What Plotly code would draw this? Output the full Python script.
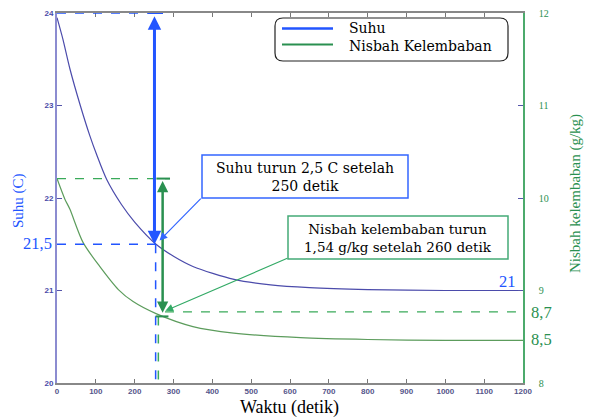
import plotly.graph_objects as go

# ---- data ----
time_suhu = [0, 15, 33, 60, 84, 102, 128, 166, 200, 255, 300, 350, 456, 550, 650, 800, 1000, 1200]
suhu = [23.95, 23.72, 23.40, 23.0, 22.68, 22.47, 22.2, 21.93, 21.74, 21.5, 21.37, 21.26, 21.12, 21.06, 21.03, 21.01, 21.0, 21.0]
time_nisbah = [0, 20, 33, 67, 110, 158, 196, 255, 350, 455, 627, 800, 1000, 1200]
nisbah = [10.21, 9.99, 9.88, 9.52, 9.26, 9.01, 8.88, 8.75, 8.61, 8.54, 8.49, 8.47, 8.46, 8.46]
x_ticks = [0, 100, 200, 300, 400, 500, 600, 700, 800, 900, 1000, 1100, 1200]
y_ticks = [20, 21, 22, 23, 24]
y2_ticks = [8, 9, 10, 11, 12]
legend_names = ["Suhu", "Nisbah Kelembaban"]

W, H = 591, 417
L, R, T, B = 57, 523, 13, 383

def px(xp):
    return (xp - L) / (R - L)

def py(yp):
    return (B - yp) / (B - T)

SERIF = "Liberation Serif"
WIDE = "DejaVu Serif"
BLUE = "#2255ff"
GREEN = "#2a9050"
CURVE_B = "#4b4bab"
CURVE_G = "#5c9c5c"

fig = go.Figure()
fig.add_trace(go.Scatter(x=time_suhu, y=suhu, mode="lines", line=dict(color=CURVE_B, width=1.2, shape="spline", smoothing=0.8),
                         showlegend=False, yaxis="y", name=legend_names[0]))
fig.add_trace(go.Scatter(x=time_nisbah, y=nisbah, mode="lines", line=dict(color=CURVE_G, width=1.2, shape="spline", smoothing=0.8),
                         showlegend=False, yaxis="y2", name=legend_names[1]))

shapes = []
# dashed guide lines
shapes.append(dict(type="line", xref="x", yref="y", x0=0, x1=270, y0=24, y1=24, line=dict(color=BLUE, width=1.5, dash="dash")))
shapes.append(dict(type="line", xref="x", yref="y", x0=0, x1=265, y0=21.5, y1=21.5, line=dict(color=BLUE, width=1.5, dash="dash")))
shapes.append(dict(type="line", xref="x", yref="y", x0=254, x1=254, y0=21.5, y1=20, line=dict(color=BLUE, width=1.5, dash="dash")))
shapes.append(dict(type="line", xref="x", yref="y2", x0=0, x1=291, y0=10.21, y1=10.21, line=dict(color="#3aaa5a", width=1.2, dash="dash")))
shapes.append(dict(type="line", xref="x", yref="y2", x0=278, x1=1200, y0=8.77, y1=8.77, line=dict(color="#3aaa5a", width=1.2, dash="dash")))
shapes.append(dict(type="line", xref="x", yref="y2", x0=261, x1=261, y0=8.72, y1=8, line=dict(color="#3aaa5a", width=1.5, dash="dash")))
# caps
shapes.append(dict(type="line", xref="x", yref="y", x0=234, x1=273, y0=24, y1=24, line=dict(color=BLUE, width=2)))
shapes.append(dict(type="line", xref="x", yref="y2", x0=256, x1=291, y0=10.21, y1=10.21, line=dict(color=GREEN, width=2)))
shapes.append(dict(type="line", xref="x", yref="y2", x0=254, x1=287, y0=8.72, y1=8.72, line=dict(color=GREEN, width=2)))
# callout boxes
shapes.append(dict(type="rect", xref="paper", yref="paper", x0=px(202), x1=px(408), y0=py(198), y1=py(155),
                   line=dict(color="#3366ff", width=1.5), fillcolor="white"))
shapes.append(dict(type="rect", xref="paper", yref="paper", x0=px(288), x1=px(508), y0=py(259), y1=py(216),
                   line=dict(color="#44aa77", width=1.5), fillcolor="white"))
# rounded legend box
x0l, x1l, y0l, y1l, r = 275, 508, 18, 61, 8
path = (f"M {px(x0l + r)} {py(y0l)} L {px(x1l - r)} {py(y0l)} Q {px(x1l)} {py(y0l)} {px(x1l)} {py(y0l + r)} "
        f"L {px(x1l)} {py(y1l - r)} Q {px(x1l)} {py(y1l)} {px(x1l - r)} {py(y1l)} "
        f"L {px(x0l + r)} {py(y1l)} Q {px(x0l)} {py(y1l)} {px(x0l)} {py(y1l - r)} "
        f"L {px(x0l)} {py(y0l + r)} Q {px(x0l)} {py(y0l)} {px(x0l + r)} {py(y0l)} Z")
shapes.append(dict(type="path", xref="paper", yref="paper", path=path, line=dict(color="#222222", width=1.2),
                   fillcolor="white"))
# legend sample lines
shapes.append(dict(type="line", xref="paper", yref="paper", x0=px(282), x1=px(333), y0=py(28.5), y1=py(28.5),
                   line=dict(color=BLUE, width=2.5)))
shapes.append(dict(type="line", xref="paper", yref="paper", x0=px(282), x1=px(333), y0=py(44.5), y1=py(44.5),
                   line=dict(color=GREEN, width=1.8)))

ann = []

def label(xp, yp, text, size, color, angle=0, xanchor="center", family=SERIF, align="center"):
    ann.append(dict(x=px(xp), y=py(yp), xref="paper", yref="paper", showarrow=False, text=text,
                    xanchor=xanchor, yanchor="middle", textangle=angle, align=align,
                    font=dict(family=family, size=size, color=color)))

# double arrows
ann.append(dict(x=251, y=21.5, ax=251, ay=23.98, xref="x", yref="y", axref="x", ayref="y", showarrow=True,
                arrowhead=2, startarrowhead=2, arrowside="end+start", arrowwidth=3, arrowsize=0.9,
                arrowcolor=BLUE, text=""))
ann.append(dict(x=272, y=8.76, ax=272, ay=10.2, xref="x", yref="y2", axref="x", ayref="y2", showarrow=True,
                arrowhead=2, startarrowhead=2, arrowside="end+start", arrowwidth=2.5, arrowsize=0.9,
                arrowcolor=GREEN, text=""))
# pointers
ann.append(dict(x=264, y=21.54, ax=374, ay=22.01, xref="x", yref="y", axref="x", ayref="y", showarrow=True,
                arrowhead=2, arrowwidth=1.2, arrowsize=1.3, arrowcolor="#3366ff", text=""))
ann.append(dict(x=279, y=8.78, ax=597, ay=9.355, xref="x", yref="y2", axref="x", ayref="y2", showarrow=True,
                arrowhead=2, arrowwidth=1.2, arrowsize=1.3, arrowcolor="#33aa66", text=""))
# legend text
label(347, 36.5, legend_names[0] + "<br>" + legend_names[1], 14, "black", xanchor="left", family=WIDE, align="left")
# callout text
label(305, 176.5, "Suhu turun 2,5 C setelah<br>250 detik", 14, "black", family=WIDE)
label(398, 237.5, "Nisbah kelembaban turun<br>1,54 g/kg setelah 260 detik", 13.5, "black", family=WIDE)
# value labels
label(37, 243, "21,5", 16.5, BLUE)
label(507, 281, "21", 16.5, BLUE)
label(541, 312, "8,7", 16.5, GREEN)
label(541, 339, "8,5", 16.5, GREEN)
# axis titles
label(19, 201, "Suhu (C)", 15, BLUE, angle=-90)
label(575, 194, "Nisbah kelembaban (g/kg)", 15, GREEN, angle=-90)
label(289, 407, "Waktu (detik)", 18, "black")

fig.update_layout(
    width=W, height=H,
    margin=dict(l=L, r=W - R, t=T, b=H - B, autoexpand=False),
    paper_bgcolor="white", plot_bgcolor="white",
    showlegend=False,
    xaxis=dict(range=[0, 1200], tickvals=x_ticks, ticks="inside", ticklen=4, tickcolor="#777777",
               showline=True, linecolor="#888888", linewidth=1.5, mirror="ticks", showgrid=False, zeroline=False,
               tickfont=dict(family="Liberation Sans", size=8, color="#55558a", weight="bold")),
    yaxis=dict(range=[20, 24], tickvals=y_ticks, ticks="inside", ticklen=5, tickcolor="#5555aa",
               showline=True, linecolor="#8c8cd0", linewidth=2, showgrid=False, zeroline=False,
               tickfont=dict(family="Liberation Sans", size=8, color="#4a4aa8", weight="bold")),
    yaxis2=dict(range=[8, 12], tickvals=y2_ticks, overlaying="y", side="right", ticks="inside", ticklen=5,
                tickcolor="#5555aa", showline=True, linecolor="#4caa6c", linewidth=1.5, showgrid=False,
                zeroline=False, ticklabelstandoff=12,
                tickfont=dict(family=SERIF, size=10, color=GREEN)),
    shapes=shapes, annotations=ann,
)

fig.write_html("out.html")
